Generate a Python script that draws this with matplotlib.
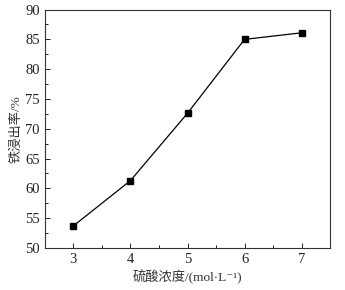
import matplotlib
matplotlib.use('Agg')
import matplotlib.pyplot as plt
from matplotlib.ticker import MultipleLocator

plt.rcParams['font.family'] = ['Liberation Serif', 'Noto Sans CJK SC', 'DejaVu Sans']

# 硫酸浓度 vs 铁浸出率
conc = [3, 4, 5, 6, 7]
rate = [53.7, 61.3, 72.6, 85.0, 86.1]

fig = plt.figure(figsize=(3.45, 2.9), dpi=100)
ax = fig.add_axes([0.130, 0.145, 0.827, 0.822])

ax.plot(conc, rate, color='black', lw=0.9, marker='s', ms=4, mfc='black', mec='black')

ax.set_xlim(2.5, 7.5)
ax.set_ylim(50, 90)
ax.xaxis.set_major_locator(MultipleLocator(1))
ax.xaxis.set_minor_locator(MultipleLocator(0.5))
ax.yaxis.set_major_locator(MultipleLocator(5))
ax.yaxis.set_minor_locator(MultipleLocator(2.5))
ax.tick_params(which='both', direction='in', labelsize=10.5, colors='#222222')
ax.tick_params(which='major', length=3.5, width=0.7)
ax.tick_params(which='minor', length=2, width=0.7)
for s in ax.spines.values():
    s.set_linewidth(0.8)
    s.set_color('#333333')

ax.set_xlabel('硫酸浓度/(mol·L⁻¹)', fontsize=9.5, color='#333333', labelpad=3)
ax.set_ylabel('铁浸出率/%', fontsize=9.5, color='#333333', labelpad=2)

fig.savefig('out.png', dpi=100)
